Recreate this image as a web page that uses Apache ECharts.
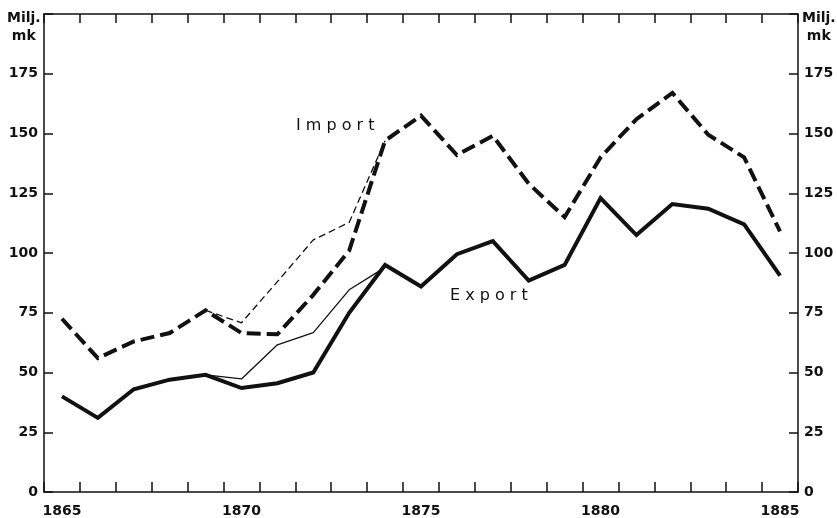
<!DOCTYPE html>
<html>
<head>
<meta charset="utf-8">
<script src="https://cdn.jsdelivr.net/npm/echarts@6/dist/echarts.min.js"></script>
<style>
html,body{margin:0;padding:0;background:#fff;}
#main{width:837px;height:518px;}
</style>
</head>
<body>
<div id="main"></div>
<script>
var years = [];
for (var y = 1865; y <= 1885; y++) years.push(String(y));

var exportVals = [40, 31, 43, 47, 49, 43.5, 45.5, 50, 75, 95, 86, 99.5, 105, 88.5, 95, 123, 107.5, 120.5, 118.5, 112, 90.5];
var importVals = [72.5, 56, 63, 66.5, 76, 66.5, 66, 82.5, 101, 147, 157.5, 141, 149, 129, 115, 140, 156, 167, 149.5, 140, 109];
var exportAlt = [null, null, null, null, 49, 47.3, 61.6, 66.7, 84.6, 94, null, null, null, null, null, null, null, null, null, null, null];
var importAlt = [null, null, null, null, 76, 70.8, 88, 105.5, 112.8, 147, null, null, null, null, null, null, null, null, null, null, null];
var yLabels = ['0', '25', '50', '75', '100', '125', '150', '175'];

var font = 'DejaVu Sans';
var ink = '#111';

var myChart = echarts.init(document.getElementById('main'));
var lineSt = {color: ink, width: 1.5};
function yLabel(v){ return v < 200 ? yLabels[v / 25] : ''; }

var option = {
    animation: false,
    backgroundColor: '#fff',
    grid: {left: 44, right: 39, top: 14, bottom: 26, containLabel: false},
    xAxis: [
        {
            type: 'category',
            position: 'bottom',
            boundaryGap: true,
            data: years,
            axisLine: {show: true, onZero: false, lineStyle: lineSt},
            axisTick: {show: true, inside: true, length: 10, interval: 0, lineStyle: lineSt},
            splitLine: {show: false},
            axisLabel: {
                interval: 4,
                color: ink,
                fontFamily: font,
                fontWeight: 'bold',
                fontSize: 14,
                margin: 12
            }
        },
        {
            type: 'category',
            position: 'top',
            boundaryGap: true,
            data: years,
            axisLine: {show: true, onZero: false, lineStyle: lineSt},
            axisTick: {show: true, inside: true, length: 9, interval: 0, lineStyle: lineSt},
            splitLine: {show: false},
            axisLabel: {show: false}
        }
    ],
    yAxis: [
        {
            type: 'value',
            position: 'left',
            min: 0, max: 200, interval: 25,
            axisLine: {show: true, onZero: false, lineStyle: lineSt},
            axisTick: {show: true, inside: true, length: 9, lineStyle: lineSt},
            splitLine: {show: false},
            axisLabel: {color: ink, fontFamily: font, fontWeight: 'bold', fontSize: 14, margin: 6, formatter: yLabel}
        },
        {
            type: 'value',
            position: 'right',
            min: 0, max: 200, interval: 25,
            axisLine: {show: true, onZero: false, lineStyle: lineSt},
            axisTick: {show: true, inside: true, length: 9, lineStyle: lineSt},
            splitLine: {show: false},
            axisLabel: {color: ink, fontFamily: font, fontWeight: 'bold', fontSize: 14, margin: 6, formatter: yLabel}
        }
    ],
    series: [
        {
            name: 'Import (alt)', type: 'line', data: importAlt, symbol: 'none',
            lineStyle: {color: ink, width: 1.3, type: [7, 4]}
        },
        {
            name: 'Export (alt)', type: 'line', data: exportAlt, symbol: 'none',
            lineStyle: {color: ink, width: 1.3}
        },
        {
            name: 'Import', type: 'line', data: importVals, symbol: 'none',
            lineStyle: {color: ink, width: 4, type: [14, 6], cap: 'butt', join: 'miter'}
        },
        {
            name: 'Export', type: 'line', data: exportVals, symbol: 'none',
            lineStyle: {color: ink, width: 4, join: 'miter'}
        }
    ],
    graphic: [
        {type: 'text', left: 7, top: 9, style: {text: 'Milj.\n mk', font: 'bold 14px "DejaVu Sans"', fill: ink, lineHeight: 18}},
        {type: 'text', left: 802, top: 9, style: {text: 'Milj.\n mk', font: 'bold 14px "DejaVu Sans"', fill: ink, lineHeight: 18}},
        {type: 'text', left: 296, top: 118, style: {text: 'I m p o r t', font: '16px "DejaVu Sans"', fill: ink}},
        {type: 'text', left: 450, top: 288, style: {text: 'E x p o r t', font: '16px "DejaVu Sans"', fill: ink}}
    ]
};
myChart.setOption(option);
</script>
</body>
</html>
